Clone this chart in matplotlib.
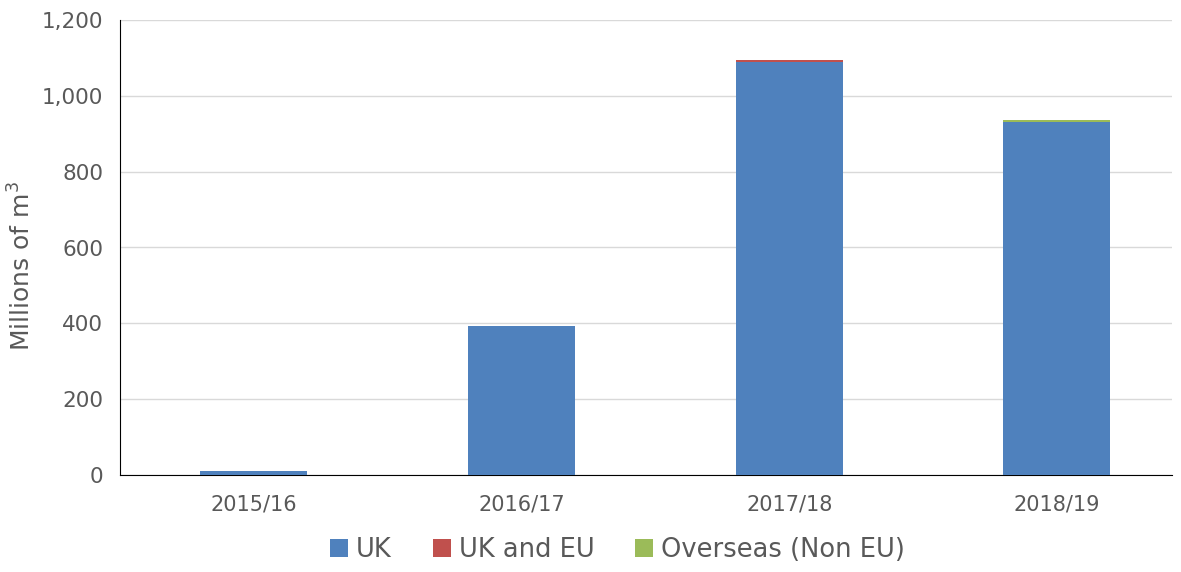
import matplotlib
matplotlib.use("Agg")
import matplotlib.pyplot as plt
import numpy as np
from matplotlib.ticker import FuncFormatter

categories = ["2015/16", "2016/17", "2017/18", "2018/19"]
uk = [10, 393, 1090, 932]
uk_eu = [0, 0, 4, 0]
overseas = [0, 0, 0, 3]

colors = {"UK": "#4f81bd", "UK and EU": "#c0504d", "Overseas (Non EU)": "#9bbb59"}
text_col = "#595959"

fig = plt.figure(figsize=(11.81, 5.72), dpi=100)
ax = fig.add_axes([120/1181, 1-475/572, (1172-120)/1181, (475-20)/572])

x = np.arange(len(categories))
w = 0.4
b1 = np.array(uk, dtype=float)
b2 = b1 + np.array(uk_eu)
ax.bar(x, uk, w, color=colors["UK"], label="UK", zorder=3)
ax.bar(x, uk_eu, w, bottom=b1, color=colors["UK and EU"], label="UK and EU", zorder=3)
ax.bar(x, overseas, w, bottom=b2, color=colors["Overseas (Non EU)"], label="Overseas (Non EU)", zorder=3)

ax.set_ylim(0, 1200)
ax.set_xlim(-0.5, 3.43)
ax.set_yticks(range(0, 1201, 200))
ax.yaxis.set_major_formatter(FuncFormatter(lambda v, p: f"{int(v):,}"))
ax.set_xticks(x)
ax.set_xticklabels(categories)
ax.grid(axis="y", color="#d9d9d9", linewidth=1, zorder=0)
for s in ["top", "right"]:
    ax.spines[s].set_visible(False)
ax.spines["left"].set_color("black")
ax.spines["bottom"].set_color("black")
ax.tick_params(axis="y", length=0, labelsize=15.5, colors=text_col, pad=12)
ax.tick_params(axis="x", length=0, labelsize=15, colors=text_col, pad=14)
ax.set_ylabel("Millions of m$^3$", fontsize=18, color=text_col)
ax.yaxis.set_label_coords(-0.08, 0.46)

leg = fig.legend(loc="lower center", bbox_to_anchor=(0.523, -0.025), ncol=3, frameon=False,
                 fontsize=18.5, handlelength=0.7, handleheight=0.7, handletextpad=0.3,
                 columnspacing=1.6)
for t in leg.get_texts():
    t.set_color(text_col)

fig.savefig("out.png", dpi=100)
